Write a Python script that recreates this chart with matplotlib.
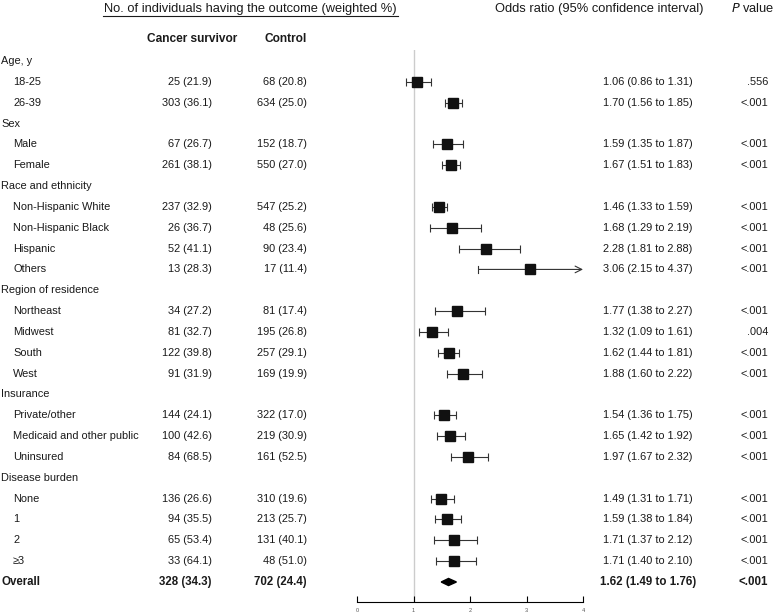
import numpy as np
import matplotlib.pyplot as plt
import matplotlib.transforms as mtransforms
from matplotlib.patches import Polygon

plt.rcParams['font.family'] = ['Liberation Sans', 'DejaVu Sans']

# rows of the table (group headers have no numbers)
labels = ['Age, y', '18-25', '26-39',
          'Sex', 'Male', 'Female',
          'Race and ethnicity', 'Non-Hispanic White', 'Non-Hispanic Black', 'Hispanic', 'Others',
          'Region of residence', 'Northeast', 'Midwest', 'South', 'West',
          'Insurance', 'Private/other', 'Medicaid and other public', 'Uninsured',
          'Disease burden', 'None', '1', '2', '\u22653',
          'Overall']
is_group = [1, 0, 0, 1, 0, 0, 1, 0, 0, 0, 0, 1, 0, 0, 0, 0, 1, 0, 0, 0, 1, 0, 0, 0, 0, 0]
survivor = ['', '25 (21.9)', '303 (36.1)', '', '67 (26.7)', '261 (38.1)',
            '', '237 (32.9)', '26 (36.7)', '52 (41.1)', '13 (28.3)',
            '', '34 (27.2)', '81 (32.7)', '122 (39.8)', '91 (31.9)',
            '', '144 (24.1)', '100 (42.6)', '84 (68.5)',
            '', '136 (26.6)', '94 (35.5)', '65 (53.4)', '33 (64.1)',
            '328 (34.3)']
control = ['', '68 (20.8)', '634 (25.0)', '', '152 (18.7)', '550 (27.0)',
           '', '547 (25.2)', '48 (25.6)', '90 (23.4)', '17 (11.4)',
           '', '81 (17.4)', '195 (26.8)', '257 (29.1)', '169 (19.9)',
           '', '322 (17.0)', '219 (30.9)', '161 (52.5)',
           '', '310 (19.6)', '213 (25.7)', '131 (40.1)', '48 (51.0)',
           '702 (24.4)']
odds = [np.nan, 1.06, 1.70, np.nan, 1.59, 1.67,
        np.nan, 1.46, 1.68, 2.28, 3.06,
        np.nan, 1.77, 1.32, 1.62, 1.88,
        np.nan, 1.54, 1.65, 1.97,
        np.nan, 1.49, 1.59, 1.71, 1.71,
        1.62]
ci_lo = [np.nan, 0.86, 1.56, np.nan, 1.35, 1.51,
         np.nan, 1.33, 1.29, 1.81, 2.15,
         np.nan, 1.38, 1.09, 1.44, 1.60,
         np.nan, 1.36, 1.42, 1.67,
         np.nan, 1.31, 1.38, 1.37, 1.40,
         1.49]
ci_hi = [np.nan, 1.31, 1.85, np.nan, 1.87, 1.83,
         np.nan, 1.59, 2.19, 2.88, 4.37,
         np.nan, 2.27, 1.61, 1.81, 2.22,
         np.nan, 1.75, 1.92, 2.32,
         np.nan, 1.71, 1.84, 2.12, 2.10,
         1.76]
pvals = ['', '.556', '<.001', '', '<.001', '<.001',
         '', '<.001', '<.001', '<.001', '<.001',
         '', '<.001', '.004', '<.001', '<.001',
         '', '<.001', '<.001', '<.001',
         '', '<.001', '<.001', '<.001', '<.001',
         '<.001']

W, H = 776, 614
fig = plt.figure(figsize=(W / 100, H / 100), dpi=100)

# forest panel, rows are y units
ax = fig.add_axes([357 / W, 1 - 602 / H, 226 / W, 552 / H])
n = len(labels)
ax.set_ylim(25.96, -0.53)
ax.set_xlim(0, 4)
for s in ['top', 'right', 'left']:
    ax.spines[s].set_visible(False)
ax.spines['bottom'].set_linewidth(0.8)
ax.set_yticks([])
ax.set_xticks([0, 1, 2, 3, 4])
ax.tick_params(axis='x', direction='in', length=4, width=0.8, labelsize=4,
               labelcolor='#555555', pad=4)
ax.axvline(1, color='#cccccc', lw=1, zorder=0)
ax.patch.set_alpha(0)

ecol = '#333333'
for i in range(n):
    if is_group[i]:
        continue
    y = i
    if labels[i] == 'Overall':
        h = 0.17
        ax.add_patch(Polygon([(ci_lo[i], y), (odds[i], y - h), (ci_hi[i], y), (odds[i], y + h)],
                             closed=True, color='black', zorder=3))
        continue
    if ci_hi[i] > 4:
        # CI runs off the axis: arrow to the edge
        ax.annotate('', xy=(4, y), xytext=(ci_lo[i], y),
                    arrowprops=dict(arrowstyle='->', color=ecol, lw=0.8,
                                    shrinkA=0, shrinkB=0, mutation_scale=12))
        ax.plot([ci_lo[i], ci_lo[i]], [y - 0.15, y + 0.15], color=ecol, lw=0.8)
    else:
        ax.errorbar(odds[i], y, xerr=[[odds[i] - ci_lo[i]], [ci_hi[i] - odds[i]]],
                    fmt='none', ecolor=ecol, elinewidth=0.8, capsize=3,
                    capthick=0.8, zorder=2)
    ax.plot(odds[i], y, marker='s', ms=7.6, color='#111111', zorder=3, ls='none')

# text columns: x in figure fraction, y in row units
tr_text = mtransforms.blended_transform_factory(fig.transFigure, ax.transData)
fs = 7.9
tc = '#1a1a1a'
for i in range(n):
    bold = labels[i] == 'Overall'
    fw = 'bold' if bold else 'normal'
    f = 8.3 if bold else fs
    xlab = 1 if (is_group[i] or bold) else 13
    ax.text(xlab / W, i, labels[i], transform=tr_text, fontsize=f, fontweight=fw,
            va='center', ha='left', color=tc)
    if survivor[i]:
        ax.text(212 / W, i, survivor[i], transform=tr_text, fontsize=f, fontweight=fw,
                va='center', ha='right', color=tc)
        ax.text(307 / W, i, control[i], transform=tr_text, fontsize=f, fontweight=fw,
                va='center', ha='right', color=tc)
    if not is_group[i]:
        s = f'{odds[i]:.2f} ({ci_lo[i]:.2f} to {ci_hi[i]:.2f})'
        ax.text(648 / W, i, s, transform=tr_text, fontsize=f, fontweight=fw,
                va='center', ha='center', color=tc)
        ax.text(768 / W, i, pvals[i], transform=tr_text, fontsize=f, fontweight=fw,
                va='center', ha='right', color=tc)

# headers
hf = 9.3
fig.text(250 / W, 1 - 9 / H, 'No. of individuals having the outcome (weighted %)',
         fontsize=hf, ha='center', va='center', color=tc)
fig.add_artist(plt.Line2D([103 / W, 398 / W], [1 - 15.5 / H, 1 - 15.5 / H], color=tc, lw=0.8))
fig.text(192 / W, 1 - 39 / H, 'Cancer survivor', fontsize=8.6, fontweight='bold',
         ha='center', va='center', color=tc)
fig.text(307 / W, 1 - 39 / H, 'Control', fontsize=8.6, fontweight='bold',
         ha='right', va='center', color=tc)
fig.text(599 / W, 1 - 9 / H, 'Odds ratio (95% confidence interval)', fontsize=hf,
         ha='center', va='center', color=tc)
fig.text(775 / W, 1 - 9 / H, '$\\it{P}$ value', fontsize=hf, ha='right', va='center',
         color=tc)

fig.savefig('out.png', dpi=100)
